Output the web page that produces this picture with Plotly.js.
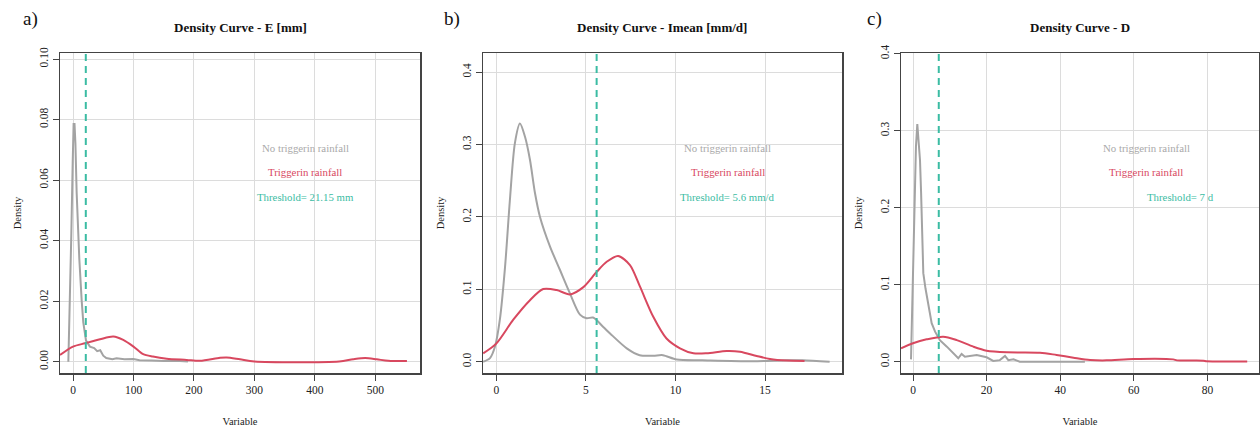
<!DOCTYPE html>
<html>
<head>
<meta charset="utf-8">
<script src="https://cdn.plot.ly/plotly-3.0.1.min.js"></script>
<style>html,body{margin:0;padding:0;background:#fff;}#chart{width:1260px;height:427px;}</style>
</head>
<body>
<div id="chart"></div>
<script>
// Panel a) E [mm]
const aNoX = [-7.7,-5,-2.8,-0.5,1,2.5,4,6,8,10.4,14.4,17,21.5,28,35,40,45,50,55,65,72,85,100,110,130,150,170,190];
const aNoY = [0,0.02,0.042,0.066,0.0785,0.0785,0.072,0.056,0.045,0.034,0.02,0.013,0.007,0.005,0.0045,0.0035,0.0038,0.002,0.0012,0.0008,0.0011,0.0008,0.0009,0.0005,0.0004,0.0002,0.0003,0.0001];
const aTrX = [-21.5,0,20,44.6,66.6,83,100,116,132,155,188,210,243,254,276,300,440,463,483,502,521,552];
const aTrY = [0.0022,0.005,0.0061,0.0074,0.0083,0.0072,0.005,0.0025,0.0017,0.001,0.0006,0.0003,0.0013,0.0014,0.0008,0.0001,0.0001,0.0008,0.0012,0.0008,0.0003,0.0002];
// Panel b) Imean [mm/d]
const bNoX = [-0.73,-0.35,-0.07,0.2,0.49,0.76,1.04,1.32,1.6,1.88,2.16,2.44,3.0,3.55,4.1,4.67,5.04,5.4,5.97,6.35,7.28,8.0,8.76,9.3,10.07,11.5,14.3,16.2,17.1,18.6];
const bNoY = [0,0.005,0.021,0.058,0.131,0.223,0.302,0.329,0.311,0.279,0.233,0.2,0.159,0.127,0.095,0.065,0.06,0.061,0.048,0.039,0.0185,0.009,0.0083,0.009,0.003,0.002,0.0006,0.002,0.002,0.0];
const bTrX = [-0.73,0,0.95,1.88,2.62,3.37,4.11,4.86,5.6,6.16,6.8,7.46,8.02,8.76,9.5,10.25,11.0,11.74,12.86,13.6,14.53,15.27,16.2,17.2];
const bTrY = [0.0116,0.025,0.058,0.085,0.1004,0.099,0.093,0.103,0.124,0.138,0.146,0.1335,0.1036,0.062,0.032,0.0185,0.0116,0.0116,0.0148,0.0138,0.0079,0.0037,0.0015,0.001];
// Panel c) D
const cNoX = [-0.54,0.1,0.54,0.8,1.17,1.5,1.9,2.2,2.5,2.8,3.4,4.17,5.07,6.0,7.3,9.2,11,12.3,13.2,14.1,17.3,20,21.8,23.6,25,25.9,27.3,29,46.7];
const cNoY = [0.003,0.145,0.206,0.279,0.3087,0.288,0.262,0.219,0.167,0.115,0.095,0.076,0.05,0.039,0.028,0.0195,0.011,0.0044,0.01,0.0065,0.0087,0.0057,0.001,0.002,0.0074,0.002,0.003,0.0,0.0];
const cTrX = [-3.26,0,3.7,8.2,11.9,16.4,20,25.5,34.5,39,43.6,48.1,52.6,59.9,70.7,71.7,78.9,79.8,90.8];
const cTrY = [0.0174,0.0239,0.029,0.0325,0.028,0.0195,0.0143,0.0122,0.0117,0.0087,0.0052,0.0022,0.0017,0.0035,0.003,0.0017,0.0013,0.0005,0.0003];

const thresholds = [21.15, 5.6, 7];
const panelTitles = ["Density Curve - E [mm]", "Density Curve - Imean [mm/d]", "Density Curve - D"];
const panelLetters = ["a)", "b)", "c)"];
const thresholdLabels = ["Threshold= 21.15 mm", "Threshold= 5.6 mm/d", "Threshold= 7 d"];
const legendNo = "No triggerin rainfall";
const legendTr = "Triggerin rainfall";

const GRAY = '#a3a3a3', RED = '#d8485f', TEAL = '#3bbca3';
const SERIF = 'Liberation Serif, Times New Roman, serif';

function line(x, y, color, xa, ya, shape) {
  return {x: x, y: y, type: 'scatter', mode: 'lines', xaxis: xa, yaxis: ya,
    line: {color: color, width: 2, shape: shape || 'linear', smoothing: 0.8}, hoverinfo: 'skip', showlegend: false};
}

const data = [
  line(aNoX, aNoY, GRAY, 'x', 'y'), line(aTrX, aTrY, RED, 'x', 'y', 'spline'),
  line(bNoX, bNoY, GRAY, 'x2', 'y2', 'spline'), line(bTrX, bTrY, RED, 'x2', 'y2', 'spline'),
  line(cNoX, cNoY, GRAY, 'x3', 'y3'), line(cTrX, cTrY, RED, 'x3', 'y3', 'spline')
];

const W = 1260, H = 427;
const yDom = [1 - 373 / H, 1 - 53 / H];
function xax(dom, range, dtick, standoff) {
  return {domain: dom, range: range, dtick: dtick, tick0: 0, showgrid: true, gridcolor: '#dcdcdc', gridwidth: 1,
    zeroline: false, showline: true, linecolor: '#444', linewidth: 1.5, mirror: true,
    ticks: 'outside', ticklen: 6, tickcolor: '#444', tickwidth: 1,
    tickfont: {family: SERIF, size: 11.5, color: '#222'},
    title: {text: 'Variable', font: {family: SERIF, size: 10.5, color: '#222'}, standoff: standoff}};
}
function yax(range, dtick, fmt, anchor) {
  return {domain: yDom, anchor: anchor, range: range, dtick: dtick, tick0: 0, tickformat: fmt, showgrid: true,
    gridcolor: '#dcdcdc', gridwidth: 1, zeroline: false, showline: true, linecolor: '#444', linewidth: 1.5, mirror: true,
    ticks: 'outside', ticklen: 6, tickcolor: '#444', tickwidth: 1, tickangle: -90,
    tickfont: {family: SERIF, size: 11.5, color: '#222'},
    title: {text: 'Density', font: {family: SERIF, size: 10.5, color: '#222'}, standoff: 14}};
}

const xDoms = [[60 / W, 420 / W], [483 / W, 842 / W], [901 / W, 1259 / W]];
const titleX = [240, 662, 1080];
const letterX = [30, 452, 874];
const legX = [[305, 305, 305], [728, 728, 728], [1146, 1146, 1180]];
const legY = [148, 172, 197];

const annotations = [];
for (let i = 0; i < 3; i++) {
  annotations.push({text: '<b>' + panelTitles[i] + '</b>', xref: 'paper', yref: 'paper', x: titleX[i] / W, y: 1 - 28 / H,
    showarrow: false, xanchor: 'center', yanchor: 'middle', font: {family: SERIF, size: 13, color: '#111'}});
  annotations.push({text: panelLetters[i], xref: 'paper', yref: 'paper', x: letterX[i] / W, y: 1 - 19 / H,
    showarrow: false, xanchor: 'center', yanchor: 'middle', font: {family: SERIF, size: 19, color: '#111'}});
  const texts = [legendNo, legendTr, thresholdLabels[i]];
  const cols = ['#aaaaaa', RED, TEAL];
  for (let k = 0; k < 3; k++) {
    annotations.push({text: texts[k], xref: 'paper', yref: 'paper', x: legX[i][k] / W, y: 1 - legY[k] / H,
      showarrow: false, xanchor: 'center', yanchor: 'middle', font: {family: SERIF, size: 10.8, color: cols[k]}});
  }
}

const axNames = ['x', 'x2', 'x3'];
const shapes = thresholds.map((t, i) => ({type: 'line', xref: axNames[i], yref: (i === 0 ? 'y' : 'y' + (i + 1)) + ' domain',
  x0: t, x1: t, y0: 0, y1: 1, line: {color: TEAL, width: 2, dash: '7px,5px'}}));

const layout = {
  width: W, height: H, margin: {l: 0, r: 0, t: 0, b: 0}, paper_bgcolor: '#fff', plot_bgcolor: '#fff', showlegend: false,
  xaxis: Object.assign(xax(xDoms[0], [-21.5, 573.6], 100, 22), {anchor: 'y'}),
  yaxis: yax([-0.00373, 0.102], 0.02, '.2f', 'x'),
  xaxis2: Object.assign(xax(xDoms[1], [-0.74, 19.29], 5, 22), {anchor: 'y2'}),
  yaxis2: yax([-0.0156, 0.4264], 0.1, '.1f', 'x2'),
  xaxis3: Object.assign(xax(xDoms[2], [-3.26, 94.0], 20, 22), {anchor: 'y3'}),
  yaxis3: yax([-0.0147, 0.4009], 0.1, '.1f', 'x3'),
  annotations: annotations, shapes: shapes
};

Plotly.newPlot('chart', data, layout, {displayModeBar: false, staticPlot: true});
</script>
</body>
</html>
